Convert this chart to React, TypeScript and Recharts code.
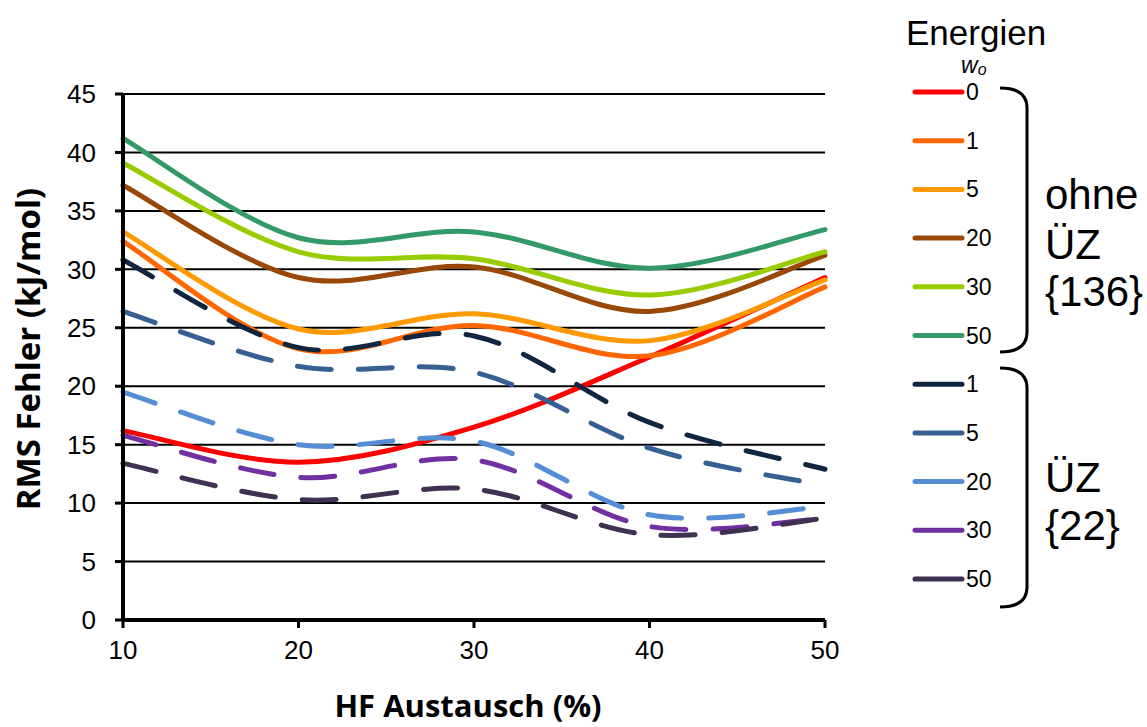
import { CartesianGrid, Line, LineChart, XAxis, YAxis } from "recharts";

// HF-Anteil in %
const hfAnteil = [10, 20, 30, 40, 50];

// ohne ÜZ {136}
const ohne_w0 = [16.2, 13.5, 16.5, 22.5, 29.3];
const ohne_w1 = [32.4, 23.2, 25.2, 22.6, 28.5];
const ohne_w5 = [33.2, 24.9, 26.2, 23.9, 29.1];
const ohne_w20 = [37.2, 29.3, 30.2, 26.4, 31.2];
const ohne_w30 = [39.1, 31.5, 30.9, 27.8, 31.5];
const ohne_w50 = [41.2, 32.7, 33.2, 30.1, 33.4];

// ÜZ {22}
const uez_w1 = [30.8, 23.3, 24.3, 16.9, 12.9];
const uez_w5 = [26.4, 21.7, 21.2, 14.7, 11.5];
const uez_w20 = [19.5, 15.0, 15.3, 9.0, 9.7];
const uez_w30 = [15.8, 12.2, 13.7, 8.0, 8.7];
const uez_w50 = [13.4, 10.3, 11.2, 7.3, 8.7];

const yTicks = [0, 5, 10, 15, 20, 25, 30, 35, 40, 45];

type Serie = { key: string; wo: string; values: number[]; color: string; dashed: boolean };

const serien: Serie[] = [
  { key: "o0", wo: "0", values: ohne_w0, color: "#FF0000", dashed: false },
  { key: "o1", wo: "1", values: ohne_w1, color: "#FF6600", dashed: false },
  { key: "o5", wo: "5", values: ohne_w5, color: "#FF9900", dashed: false },
  { key: "o20", wo: "20", values: ohne_w20, color: "#984807", dashed: false },
  { key: "o30", wo: "30", values: ohne_w30, color: "#99CC00", dashed: false },
  { key: "o50", wo: "50", values: ohne_w50, color: "#339966", dashed: false },
  { key: "u1", wo: "1", values: uez_w1, color: "#10253F", dashed: true },
  { key: "u5", wo: "5", values: uez_w5, color: "#376092", dashed: true },
  { key: "u20", wo: "20", values: uez_w20, color: "#558ED5", dashed: true },
  { key: "u30", wo: "30", values: uez_w30, color: "#7030A0", dashed: true },
  { key: "u50", wo: "50", values: uez_w50, color: "#403152", dashed: true },
];

const rows = hfAnteil.map((hf, i) => {
  const row: Record<string, number> = { hf };
  serien.forEach((s) => (row[s.key] = s.values[i]));
  return row;
});

// Excel-artige Glättung (Catmull-Rom, Kontrollpunkte bei 1/6)
function excelSmooth(context: any) {
  let pts: [number, number][] = [];
  return {
    areaStart() {},
    areaEnd() {},
    lineStart() {
      pts = [];
    },
    point(x: number, y: number) {
      pts.push([+x, +y]);
    },
    lineEnd() {
      if (!pts.length) return;
      context.moveTo(pts[0][0], pts[0][1]);
      for (let i = 0; i < pts.length - 1; i++) {
        const p0 = pts[i - 1] ?? pts[i];
        const p1 = pts[i];
        const p2 = pts[i + 1];
        const p3 = pts[i + 2] ?? p2;
        context.bezierCurveTo(
          p1[0] + (p2[0] - p0[0]) / 6,
          p1[1] + (p2[1] - p0[1]) / 6,
          p2[0] - (p3[0] - p1[0]) / 6,
          p2[1] - (p3[1] - p1[1]) / 6,
          p2[0],
          p2[1]
        );
      }
    },
  };
}

const font = "'Liberation Sans', Arial, sans-serif";
const titleFont = "'Open Sans', sans-serif";

function Klammer({ top, bottom }: { top: number; bottom: number }) {
  const x0 = 1000;
  const x1 = 1027;
  const r = 20;
  const d = `M${x0},${top} Q${x1},${top} ${x1},${top + r} L${x1},${bottom - r} Q${x1},${bottom} ${x0},${bottom}`;
  return <path d={d} fill="none" stroke="#000" strokeWidth={3} />;
}

function Legende() {
  const y0 = 92;
  const step = 48.7;
  return (
    <svg width={1147} height={727} style={{ position: "absolute", left: 0, top: 0, pointerEvents: "none" }}>
      <text x={906} y={45} fontFamily={font} fontSize={35} fill="#000">
        Energien
      </text>
      <text x={961} y={73} fontFamily={font} fontSize={23} fontStyle="italic" fill="#000">
        w
        <tspan fontSize={16} dy={2}>
          o
        </tspan>
      </text>
      {serien.map((s, i) => {
        const y = y0 + i * step;
        return (
          <g key={s.key}>
            <line x1={915} x2={962} y1={y} y2={y} stroke={s.color} strokeWidth={5} strokeLinecap="round" />
            <text x={966} y={y + 8} fontFamily={font} fontSize={23} fill="#000">
              {s.wo}
            </text>
          </g>
        );
      })}
      <Klammer top={88} bottom={352} />
      <Klammer top={368} bottom={607} />
      <text fontFamily={font} fontSize={42} fill="#000">
        <tspan x={1045} y={209}>ohne</tspan>
        <tspan x={1045} y={259}>ÜZ</tspan>
        <tspan x={1045} y={306}>{"{136}"}</tspan>
      </text>
      <text fontFamily={font} fontSize={42} fill="#000">
        <tspan x={1045} y={492}>ÜZ</tspan>
        <tspan x={1045} y={540}>{"{22}"}</tspan>
      </text>
      <text x={468} y={717} textAnchor="middle" fontFamily={titleFont} fontWeight={700} fontSize={31} fill="#000">
        HF Austausch (%)
      </text>
      <text
        x={0}
        y={0}
        transform="translate(40,349) rotate(-90)"
        textAnchor="middle"
        fontFamily={titleFont}
        fontWeight={700}
        fontSize={33}
        fill="#000"
      >
        RMS Fehler (kJ/mol)
      </text>
    </svg>
  );
}

export default function App() {
  return (
    <div style={{ position: "absolute", left: 0, top: 0, width: 1147, height: 727, background: "#fff" }}>
      <LineChart width={1147} height={727} data={rows} margin={{ top: 94, right: 322, bottom: 47, left: 0 }}>
        <CartesianGrid vertical={false} stroke="#000" strokeWidth={2} strokeOpacity={1} />
        <XAxis
          dataKey="hf"
          type="number"
          domain={[10, 50]}
          ticks={hfAnteil}
          height={60}
          tickSize={8}
          tickMargin={13}
          axisLine={{ stroke: "#000", strokeWidth: 4 }}
          tickLine={{ stroke: "#000", strokeWidth: 3 }}
          tick={{ fill: "#000", fontSize: 26, fontFamily: font }}
        />
        <YAxis
          type="number"
          domain={[0, 45]}
          ticks={yTicks}
          width={123}
          tickSize={8}
          tickMargin={19}
          axisLine={{ stroke: "#000", strokeWidth: 4 }}
          tickLine={{ stroke: "#000", strokeWidth: 3 }}
          tick={{ fill: "#000", fontSize: 26, fontFamily: font }}
        />
        {serien.map((s) => (
          <Line
            key={s.key}
            dataKey={s.key}
            type={excelSmooth as any}
            stroke={s.color}
            strokeWidth={5}
            strokeDasharray={s.dashed ? "34 27" : undefined}
            strokeLinecap="round"
            dot={false}
            activeDot={false}
            isAnimationActive={false}
          />
        ))}
      </LineChart>
      <Legende />
    </div>
  );
}
